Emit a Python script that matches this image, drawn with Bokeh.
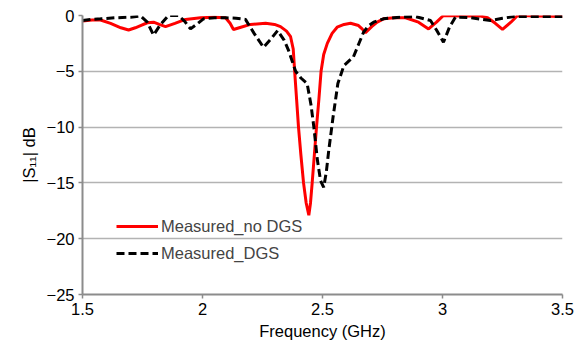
from bokeh.plotting import figure
from bokeh.models import Range1d, Legend, LegendItem, FixedTicker
from bokeh.embed import file_html
from bokeh.resources import INLINE

freq_nodgs = [1.500, 1.540, 1.575, 1.617, 1.660, 1.692, 1.720, 1.742, 1.770, 1.796, 1.820, 1.846,
              1.885, 1.929, 1.992, 2.050, 2.096, 2.115, 2.129, 2.160, 2.200, 2.263, 2.300, 2.325,
              2.350, 2.367, 2.378, 2.384, 2.392, 2.400, 2.410, 2.421, 2.432, 2.443, 2.450, 2.457,
              2.466, 2.475, 2.485, 2.494, 2.505, 2.520, 2.540, 2.561, 2.590, 2.617, 2.650, 2.665,
              2.679, 2.705, 2.728, 2.754, 2.800, 2.846, 2.900, 2.942, 2.975, 3.004, 3.080, 3.158,
              3.188, 3.220, 3.250, 3.285, 3.313, 3.400, 3.500]
s11_nodgs = [-0.5, -0.4, -0.4, -0.7, -1.1, -1.3, -1.1, -0.9, -0.65, -0.6, -0.8, -1.0,
             -0.7, -0.35, -0.2, -0.15, -0.2, -0.7, -1.25, -1.05, -0.8, -0.7, -0.8, -1.0,
             -1.4, -1.9, -3.0, -5.0, -7.5, -10.0, -12.5, -15.0, -16.8, -17.9, -16.8, -15.0,
             -12.5, -10.0, -7.5, -5.0, -3.5, -2.5, -1.6, -1.05, -0.8, -0.7, -0.9, -1.2,
             -1.55, -1.0, -0.6, -0.3, -0.2, -0.2, -0.6, -1.2, -0.6, 0.0, -0.05, -0.05,
             -0.2, -0.7, -1.25, -0.6, 0.0, -0.05, -0.1]

freq_dgs = [1.500, 1.540, 1.575, 1.640, 1.700, 1.742, 1.770, 1.796, 1.825, 1.858, 1.900, 1.925,
            1.950, 1.975, 2.004, 2.050, 2.096, 2.140, 2.179, 2.215, 2.254, 2.285, 2.313, 2.340,
            2.358, 2.388, 2.410, 2.436, 2.452, 2.464, 2.479, 2.492, 2.505, 2.516, 2.526, 2.544,
            2.564, 2.589, 2.629, 2.650, 2.671, 2.690, 2.713, 2.754, 2.820, 2.888, 2.950, 2.975,
            3.004, 3.030, 3.054, 3.117, 3.200, 3.250, 3.296, 3.400, 3.500]
s11_dgs = [-0.45, -0.35, -0.3, -0.2, -0.15, -0.05, -0.6, -1.75, -0.8, 0.0, 0.0, -0.5,
           -1.2, -0.8, -0.3, -0.2, -0.2, -0.25, -0.35, -1.6, -2.85, -2.1, -1.35, -2.2,
           -3.1, -5.0, -5.6, -6.1, -8.0, -10.0, -13.0, -14.8, -15.4, -14.0, -12.1, -9.1,
           -6.1, -4.5, -3.7, -2.6, -1.5, -0.95, -0.6, -0.3, -0.15, -0.1, -0.45, -1.3,
           -2.4, -1.0, -0.15, -0.2, -0.45, -0.25, -0.1, -0.1, -0.1]

x_ticks = [1.5, 2.0, 2.5, 3.0, 3.5]
y_ticks = [0, -5, -10, -15, -20, -25]

p = figure(width=585, height=348, output_backend="svg", toolbar_location=None,
           x_range=Range1d(1.5, 3.5), y_range=Range1d(-25, 0),
           min_border_left=82, min_border_right=23, min_border_top=15, min_border_bottom=54)
p.outline_line_color = None
p.background_fill_color = "white"
p.border_fill_color = "white"

r1 = p.line(freq_nodgs, s11_nodgs, line_color="#ff0000", line_width=3)
r2 = p.line(freq_dgs, s11_dgs, line_color="black", line_width=3, line_dash="8 4")

p.xaxis.ticker = FixedTicker(ticks=x_ticks)
p.yaxis.ticker = FixedTicker(ticks=y_ticks)
p.xaxis.major_label_overrides = {1.5: "1.5", 2.0: "2", 2.5: "2.5", 3.0: "3", 3.5: "3.5"}
p.xgrid.grid_line_color = None
p.ygrid.grid_line_color = "#b3b3b3"
p.ygrid.grid_line_width = 1.5

for ax in (p.xaxis[0], p.yaxis[0]):
    ax.axis_line_color = "#8c8c8c"
    ax.axis_line_width = 2
    ax.major_tick_line_color = "#8c8c8c"
    ax.major_tick_line_width = 1.5
    ax.major_tick_out = 4
    ax.major_tick_in = 0
    ax.minor_tick_line_color = None
    ax.major_label_text_font = "Liberation Sans"
    ax.major_label_text_font_size = "16.5px"
    ax.major_label_text_color = "black"
    ax.axis_label_text_font = "Liberation Sans"
    ax.axis_label_text_font_size = "16.5px"
    ax.axis_label_text_font_style = "normal"
    ax.axis_label_text_color = "black"

p.xaxis.axis_label = "Frequency (GHz)"
p.xaxis.axis_label_standoff = 4
p.xaxis.major_label_standoff = 4
p.yaxis.axis_label = "|S\u2081\u2081| dB"
p.yaxis.axis_label_standoff = 6
p.yaxis.major_label_standoff = 4

legend = Legend(items=[LegendItem(label="Measured_no DGS", renderers=[r1]),
                       LegendItem(label="Measured_DGS", renderers=[r2])],
                location=(34, 31), orientation="vertical")
legend.border_line_color = None
legend.background_fill_alpha = 0
legend.label_text_font = "Liberation Sans"
legend.label_text_font_size = "16.5px"
legend.glyph_width = 42
legend.glyph_height = 20
legend.label_height = 20
legend.label_standoff = 3
legend.spacing = 7
legend.padding = 2
legend.margin = 0
p.add_layout(legend, "center")

open("out.html", "w").write(file_html(p, INLINE))
